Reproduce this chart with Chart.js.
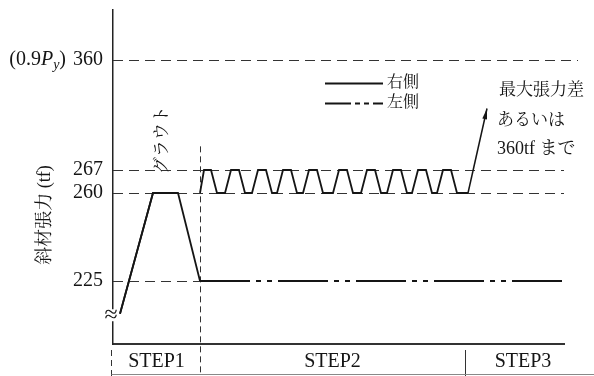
<!DOCTYPE html>
<html>
<head>
<meta charset="utf-8">
<script src="https://cdn.jsdelivr.net/npm/chart.js@4/dist/chart.umd.min.js"></script>
<style>
  html, body { margin: 0; padding: 0; background: #fff; }
  canvas { display: block; }
</style>
</head>
<body>
<canvas id="c" width="594" height="376"></canvas>
<script>
// Cable tension (tf) through the staged tensioning sequence
const Y_TICKS = [225, 260, 267, 360];
const SERIES_NAMES = ['右側', '左側'];
const STEP_NAMES = ['STEP1', 'STEP2', 'STEP3'];
const STEP_BOUNDS = [0, 87, 352, 468];          // sequence time at each step boundary

// right-side cable: time / tension (tf); null = pen lifted
const RIGHT_T = [7, 40, 65, 76,
  87, 91, 98, 104,
  112, 118, 126, 132,
  139, 145, 153, 159,
  164, 170, 178, 184,
  190, 196, 204, 210,
  220, 226, 234, 240,
  248, 254, 262, 268,
  274, 280, 288, 294,
  299, 305, 313, 319,
  324, 330, 338, 344,
  355];
const RIGHT_TF = [212, 260, 260, null,
  260, 267, 267, 260,
  260, 267, 267, 260,
  260, 267, 267, 260,
  260, 267, 267, 260,
  260, 267, 267, 260,
  260, 267, 267, 260,
  260, 267, 267, 260,
  260, 267, 267, 260,
  260, 267, 267, 260,
  260, 267, 267, 260,
  260];

// left-side cable
const LEFT_T = [7, 40, 65, 87, 451];
const LEFT_TF = [212, 260, 260, 225, 225];

// continuation arrow after the last cycle (time, tf)
const ARROW_TO = [374, 319];
const GROUT_MARK_TF = 287;   // top of the grouting divider line

// broken (schematic) tension axis: tf -> axis units
const AXIS_KNOTS = [[200, 0], [225, 63], [260, 151], [267, 174], [360, 284], [402.3, 334]];
function warp(v) {
  for (let i = 1; i < AXIS_KNOTS.length; i++) {
    const [a0, b0] = AXIS_KNOTS[i - 1], [a1, b1] = AXIS_KNOTS[i];
    if (v <= a1 || i === AXIS_KNOTS.length - 1) return b0 + (v - a0) * (b1 - b0) / (a1 - a0);
  }
}

const INK = '#151515';
const SERIF = '"Liberation Serif", "Noto Serif CJK JP", "Noto Sans CJK JP", serif';
const DASH_DOT = [50, 6, 5, 6, 5, 6];

const toPts = (ts, vs) => ts.map((t, i) => ({ x: t, y: vs[i] == null ? null : warp(vs[i]) }));

const decor = {
  id: 'decor',
  beforeDatasetsDraw(chart) {
    const { ctx, chartArea: ca, scales: { x, y } } = chart;
    ctx.save();
    const gx = Math.round(x.getPixelForValue(STEP_BOUNDS[1])) + 0.5;
    // dashed reference levels (the 225 level is carried by the left cable after grouting)
    ctx.strokeStyle = '#333';
    ctx.lineWidth = 1;
    ctx.setLineDash([10, 6]);
    Y_TICKS.forEach((v, i) => {
      const py = Math.round(y.getPixelForValue(warp(v))) + 0.5;
      let right = ca.right;
      if (i === 0) right = gx;
      if (i === Y_TICKS.length - 1) right = ca.right + 14;
      ctx.beginPath(); ctx.moveTo(ca.left, py); ctx.lineTo(right, py); ctx.stroke();
    });
    // grouting divider (STEP1 | STEP2)
    ctx.setLineDash([6, 4]);
    ctx.beginPath();
    ctx.moveTo(gx, y.getPixelForValue(warp(GROUT_MARK_TF)));
    ctx.lineTo(gx, chart.height);
    ctx.stroke();
    // left bound of STEP1 below the axis
    const lx = Math.round(x.getPixelForValue(STEP_BOUNDS[0])) - 1.5;
    ctx.beginPath(); ctx.moveTo(lx, ca.bottom + 6); ctx.lineTo(lx, chart.height); ctx.stroke();
    ctx.setLineDash([]);
    // STEP2 | STEP3 divider
    const sx = Math.round(x.getPixelForValue(STEP_BOUNDS[2])) + 0.5;
    ctx.beginPath(); ctx.moveTo(sx, ca.bottom + 6); ctx.lineTo(sx, chart.height); ctx.stroke();
    // dimension line under the step labels
    ctx.strokeStyle = '#888';
    ctx.beginPath(); ctx.moveTo(lx, chart.height - 1.5); ctx.lineTo(chart.width, chart.height - 1.5); ctx.stroke();
    ctx.restore();
  },
  afterDraw(chart) {
    const { ctx, chartArea: ca, scales: { x, y } } = chart;
    ctx.save();
    ctx.fillStyle = INK;
    ctx.strokeStyle = INK;

    // (0.9Py) prefix of the top tick
    const py360 = y.getPixelForValue(warp(Y_TICKS[3]));
    const parts = [
      { t: '(0.9', f: '20px ' + SERIF, dy: 0 },
      { t: 'P', f: 'italic 20px ' + SERIF, dy: 0 },
      { t: 'y', f: 'italic 14px ' + SERIF, dy: 5 },
      { t: ')', f: '20px ' + SERIF, dy: 0 }
    ];
    let w = 0;
    parts.forEach(p => { ctx.font = p.f; p.w = ctx.measureText(p.t).width; w += p.w; });
    let cx = 66 - w;
    ctx.textBaseline = 'middle';
    ctx.textAlign = 'left';
    parts.forEach(p => { ctx.font = p.f; ctx.fillText(p.t, cx, py360 + p.dy); cx += p.w; });

    // axis title (rotated)
    ctx.save();
    ctx.translate(45, 215);
    ctx.rotate(-Math.PI / 2);
    ctx.font = '18px ' + SERIF;
    ctx.textAlign = 'center';
    ctx.fillText('斜材張力 (tf)', 0, 0);
    ctx.restore();

    // grouting note (rotated)
    ctx.save();
    ctx.translate(163, 140);
    ctx.rotate(-Math.PI / 2);
    ctx.font = '17px ' + SERIF;
    ctx.textAlign = 'center';
    ctx.fillText('グラウト', 0, 0);
    ctx.restore();

    // axis break mark
    const by = y.getPixelForValue(warp(213)) + 4;
    ctx.fillStyle = '#fff';
    ctx.fillRect(ca.left - 4, by - 6, 8, 12);
    ctx.fillStyle = INK;
    ctx.font = '24px ' + SERIF;
    ctx.textAlign = 'center';
    ctx.fillText('≈', ca.left - 2, by);

    // legend
    const legY = [83, 103];
    const legDash = [[], [26, 4, 5, 4, 5, 4]];
    ctx.lineWidth = 1.8;
    legY.forEach((ly, i) => {
      ctx.setLineDash(legDash[i]);
      ctx.beginPath(); ctx.moveTo(325, ly + 0.5); ctx.lineTo(383, ly + 0.5); ctx.stroke();
      ctx.setLineDash([]);
      ctx.font = '16px ' + SERIF;
      ctx.textAlign = 'left';
      ctx.fillText(SERIES_NAMES[i], 387, ly);
    });

    // continuation arrow
    const ax0 = x.getPixelForValue(RIGHT_T[RIGHT_T.length - 1]);
    const ay0 = y.getPixelForValue(warp(RIGHT_TF[RIGHT_TF.length - 1]));
    const ax1 = x.getPixelForValue(ARROW_TO[0]);
    const ay1 = y.getPixelForValue(warp(ARROW_TO[1]));
    ctx.lineWidth = 1.5;
    ctx.beginPath(); ctx.moveTo(ax0, ay0); ctx.lineTo(ax1, ay1); ctx.stroke();
    const ang = Math.atan2(ay1 - ay0, ax1 - ax0);
    ctx.beginPath();
    ctx.moveTo(ax1, ay1);
    ctx.lineTo(ax1 - 11 * Math.cos(ang - 0.22), ay1 - 11 * Math.sin(ang - 0.22));
    ctx.lineTo(ax1 - 11 * Math.cos(ang + 0.22), ay1 - 11 * Math.sin(ang + 0.22));
    ctx.closePath(); ctx.fill();

    // annotation text
    ctx.font = '17px ' + SERIF;
    ctx.textAlign = 'left';
    ctx.fillText('最大張力差', 499, 91);
    ctx.fillText('あるいは', 497, 121);
    ctx.font = '18px ' + SERIF;
    ctx.fillText('360tf まで', 497, 149);

    // step labels
    ctx.font = '20px ' + SERIF;
    ctx.textAlign = 'center';
    for (let i = 0; i < STEP_NAMES.length; i++) {
      const c = (x.getPixelForValue(STEP_BOUNDS[i]) + x.getPixelForValue(STEP_BOUNDS[i + 1])) / 2;
      ctx.fillText(STEP_NAMES[i], c, 362);
    }
    ctx.restore();
  }
};

new Chart(document.getElementById('c'), {
  type: 'line',
  data: {
    datasets: [
      {
        label: SERIES_NAMES[0],
        data: toPts(RIGHT_T, RIGHT_TF),
        borderColor: INK, borderWidth: 1.8,
        pointRadius: 0, tension: 0, spanGaps: false, fill: false
      },
      {
        label: SERIES_NAMES[1],
        data: toPts(LEFT_T, LEFT_TF),
        borderColor: INK, borderWidth: 1.8,
        pointRadius: 0, tension: 0, fill: false,
        segment: { borderDash: c => c.p0.parsed.x < STEP_BOUNDS[1] ? [] : DASH_DOT }
      }
    ]
  },
  options: {
    responsive: false,
    animation: false,
    devicePixelRatio: 1,
    layout: { padding: { left: 0, right: 30, top: 10, bottom: 0 } },
    plugins: { legend: { display: false }, tooltip: { enabled: false } },
    scales: {
      x: {
        type: 'linear', min: 0, max: 451,
        ticks: { display: false },
        grid: { display: false, drawTicks: false },
        border: { display: true, color: '#333', width: 2 },
        afterFit: s => { s.height = 32; s.paddingLeft = 0; s.paddingRight = 0; }
      },
      y: {
        type: 'linear', min: 0, max: 334,
        afterBuildTicks: s => { s.ticks = Y_TICKS.map(v => ({ value: warp(v) })); },
        ticks: {
          autoSkip: false,
          padding: 10,
          color: INK,
          font: { family: SERIF, size: 20 },
          callback: (v, i) => String(Y_TICKS[i])
        },
        grid: { display: false, drawTicks: false },
        border: { display: true, color: '#222', width: 1.5 },
        afterFit: s => { s.width = 113; s.paddingTop = 0; s.paddingBottom = 0; }
      }
    }
  },
  plugins: [decor]
});
</script>
</body>
</html>
